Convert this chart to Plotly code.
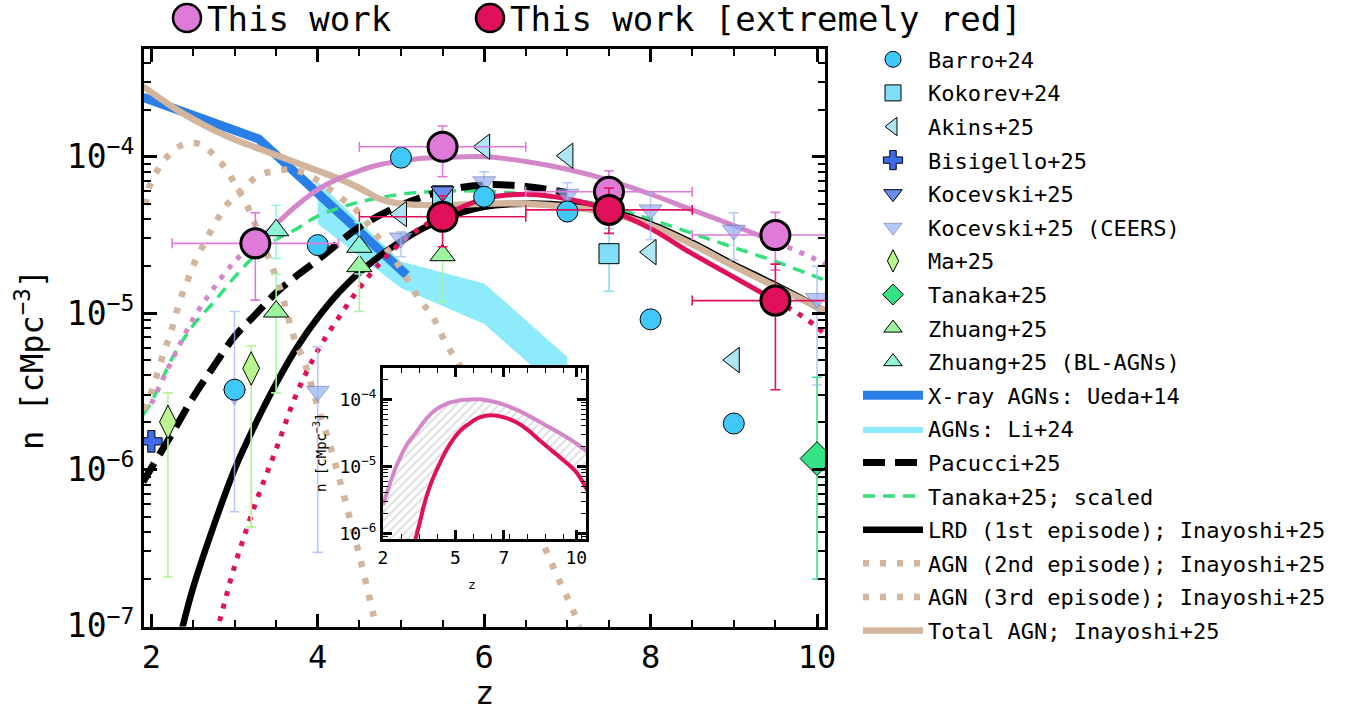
import numpy as np
import plotly.graph_objects as go

# ------------------------------------------------------------------
# Data (number densities given as log10 n [cMpc^-3])
# ------------------------------------------------------------------
# This work
tw_z = [3.25, 5.5, 7.5, 9.5]
tw_logn = [-4.554, -3.936, -4.224, -4.501]
tw_logn_lo = [-4.917, -4.128, -4.350, -4.725]
tw_logn_hi = [-4.358, -3.804, -4.090, -4.356]
tw_dz = [1.0, 1.0, 1.0, 1.0]

# This work [extremely red]
er_z = [5.5, 7.5, 9.5]
er_logn = [-4.384, -4.340, -4.920]
er_logn_lo = [-4.576, -4.490, -5.490]
er_logn_hi = [-4.250, -4.200, -4.687]
er_dz = [1.0, 1.0, 1.0]

# Literature measurements
barro_z = [3.0, 4.0, 5.0, 6.0, 7.0, 8.0, 9.0]
barro_logn = [-5.49, -4.565, -4.006, -4.256, -4.35, -5.04, -5.706]

kokorev_z = [5.5, 7.5]
kokorev_logn = [-4.25, -4.62]
kokorev_logn_lo = [-4.25, -4.86]
kokorev_logn_hi = [-4.25, -4.46]

akins_z = [5.0, 6.0, 7.0, 8.0, 9.0]
akins_logn = [-4.367, -3.936, -3.994, -4.61, -5.30]

bisigello_z = [2.0]
bisigello_logn = [-5.82]

kocevski_z = [5.5]
kocevski_logn = [-4.224]

ceers_z = [3.0, 4.0, 5.0, 6.0, 7.0, 8.0, 9.0, 10.0]
ceers_logn = [-5.52, -5.50, -4.52, -4.16, -4.24, -4.34, -4.47, -4.906]
ceers_logn_lo = [-6.27, -6.53, -4.64, -4.256, -4.416, -4.53, -4.66, -5.46]
ceers_logn_hi = [-4.99, -5.215, -4.48, -4.096, -4.166, -4.23, -4.358, -4.70]

ma_z = [2.2, 3.2]
ma_logn = [-5.696, -5.354]
ma_logn_lo = [-6.687, -6.367]
ma_logn_hi = [-5.51, -5.21]

tanaka_z = [10.0]
tanaka_logn = [-5.93]
tanaka_logn_lo = [-6.70]
tanaka_logn_hi = [-5.41]

zhuang_z = [3.5, 4.5, 5.5]
zhuang_logn = [-4.99, -4.70, -4.63]
zhuang_logn_lo = [-5.51, -4.99, -4.93]
zhuang_logn_hi = [-4.75, -4.55, -4.47]

zhuang_bl_z = [3.5, 4.5]
zhuang_bl_logn = [-4.47, -4.576]
zhuang_bl_logn_lo = [-4.65, -4.75]
zhuang_bl_logn_hi = [-4.31, -4.42]

# Model / literature curves
ueda_z = [1.9, 3.29, 5.07]
ueda_logn = [-3.62, -3.887, -4.757]

li_z = [4.0, 5.0, 6.0, 7.0]
li_logn_hi = [-4.16, -4.67, -4.81, -5.28]
li_logn_lo = [-4.43, -4.84, -5.07, -5.54]

pacucci_z = [1.9, 2.0, 2.25, 2.5, 2.75, 3.0, 3.25, 3.5, 3.75, 4.0, 4.5, 5.0, 5.5, 6.0, 6.5, 7.0]
pacucci_logn = [-6.08, -5.99, -5.77, -5.54, -5.34, -5.15, -5.01, -4.87, -4.76, -4.66,
                -4.45, -4.31, -4.22, -4.18, -4.19, -4.23]

tanaka_fit_z = [1.9, 2.0, 2.25, 2.5, 2.75, 3.0, 3.25, 3.5, 3.75, 4.0, 4.5, 5.0, 5.5, 6.0,
                6.5, 7.0, 7.5, 8.0, 8.5, 9.0, 9.5, 10.0, 10.1]
tanaka_fit_logn = [-5.65, -5.57, -5.29, -5.08, -4.93, -4.77, -4.63, -4.53, -4.46, -4.38,
                   -4.29, -4.24, -4.22, -4.22, -4.24, -4.27, -4.32, -4.40, -4.49, -4.58,
                   -4.67, -4.77, -4.79]

lrd_z = [2.35, 2.5, 2.75, 3.0, 3.25, 3.5, 3.75, 4.0, 4.25, 4.5, 5.0, 5.5, 6.0, 6.5, 7.0,
         7.5, 8.0, 8.5, 9.0, 9.5, 10.0, 10.1]
lrd_logn = [-7.06, -6.76, -6.36, -6.0, -5.71, -5.45, -5.22, -5.03, -4.87, -4.74, -4.54,
            -4.40, -4.32, -4.30, -4.31, -4.35, -4.43, -4.55, -4.69, -4.82, -4.96, -4.99]

agn2_z = [1.91, 2.01, 2.15, 2.23, 2.35, 2.43, 2.51, 2.61, 2.71, 2.83, 2.95, 3.11, 3.29,
          3.50, 3.72, 3.93, 4.27, 4.46, 4.60, 4.99, 5.23, 5.37, 5.47, 5.57, 5.69, 6.2,
          6.73, 6.91, 7.01, 7.09, 7.15]
agn2_logn = [-5.62, -5.49, -5.25, -5.13, -4.91, -4.80, -4.69, -4.58, -4.48, -4.37, -4.28,
             -4.20, -4.12, -4.09, -4.085, -4.13, -4.26, -4.34, -4.43, -4.71, -4.92, -5.01,
             -5.12, -5.22, -5.32, -5.85, -6.50, -6.72, -6.83, -6.93, -7.02]

agn3_z = [1.93, 1.97, 2.07, 2.19, 2.37, 2.59, 2.77, 2.91, 3.03, 3.13, 3.39, 3.55, 3.73,
          3.83, 4.0, 4.15, 4.27, 4.39, 4.51, 4.63, 4.70]
agn3_logn = [-4.31, -4.20, -4.09, -4.00, -3.925, -3.92, -4.00, -4.09, -4.20, -4.29, -4.62,
             -4.85, -5.18, -5.30, -5.60, -5.85, -6.08, -6.32, -6.57, -6.84, -7.0]

total_z = [1.9, 2.25, 2.5, 2.75, 3.0, 3.25, 3.5, 3.75, 4.0, 4.25, 4.5, 4.75, 5.0, 5.5,
           6.0, 6.5, 7.0, 7.5, 8.0, 8.5, 9.0, 9.5, 10.0, 10.1]
total_logn = [-3.55, -3.68, -3.76, -3.83, -3.89, -3.94, -3.99, -4.04, -4.09, -4.14, -4.20,
              -4.27, -4.30, -4.31, -4.30, -4.30, -4.32, -4.36, -4.44, -4.56, -4.70, -4.83,
              -4.96, -4.99]

# Best-fit density evolution of this work (both samples)
fit_z = [2.0, 2.25, 2.5, 2.75, 3.0, 3.25, 3.5, 3.75, 4.0, 4.25, 4.5, 4.75, 5.0, 5.25,
         5.5, 6.0, 6.5, 7.0, 7.5, 8.0, 8.5, 9.0, 9.5, 10.0, 10.45]
fit_all_logn = [-5.58, -5.30, -5.04, -4.84, -4.67, -4.55, -4.43, -4.31, -4.21, -4.14,
                -4.09, -4.05, -4.03, -4.01, -4.005, -4.0, -4.03, -4.08, -4.15, -4.24,
                -4.34, -4.44, -4.545, -4.66, -4.78]
fit_red_logn = [-8.4, -7.9, -7.5, -7.1, -6.62, -6.22, -5.87, -5.51, -5.24, -5.03,
                -4.84, -4.68, -4.55, -4.45, -4.38, -4.27, -4.24, -4.27, -4.34, -4.46,
                -4.62, -4.77, -4.92, -5.09, -5.36]

# Axis ticks
x_major = [2, 4, 6, 8, 10]
y_major_exp = [-7, -6, -5, -4]
inset_x_major = [2, 5, 7, 10]
inset_y_major_exp = [-6, -5, -4]

# ------------------------------------------------------------------
# Styling
# ------------------------------------------------------------------
W, H = 1364, 715
FONT = "DejaVu Sans Mono"
C_TW = "#e07ad8"
C_TW_LINE = "#d487c8"
C_RED = "#e0105a"
C_TAN = "#d2b59c"
C_UEDA = "#2a7fe6"
C_LI = "#8eebfb"
C_TFIT = "#33e07a"


def lin(v):
    return 10.0 ** np.asarray(v, dtype=float)


def px_x(p):
    return p / W


def px_y(p):
    return 1 - p / H


MAIN_XRANGE = [1.912, 10.096]
MAIN_YRANGE = [-7.004, -3.308]
INSET_XRANGE = [2.0, 10.4]
INSET_YRANGE = [-6.085, -3.533]

fig = go.Figure()


def errs(logn, lo, hi):
    n = lin(logn)
    return dict(type="data", array=lin(hi) - n, arrayminus=n - lin(lo))


# ---------------- curves (main panel) ----------------
fig.add_trace(go.Scatter(x=li_z, y=lin(li_logn_lo), mode="lines", line=dict(width=0, color=C_LI),
                         showlegend=False, legendgroup="li", hoverinfo="skip"))
fig.add_trace(go.Scatter(x=li_z, y=lin(li_logn_hi), mode="lines", fill="tonexty", fillcolor=C_LI,
                         line=dict(width=0, color=C_LI), name="AGNs: Li+24", legendgroup="li",
                         legendrank=12))
fig.add_trace(go.Scatter(x=ueda_z, y=lin(ueda_logn), mode="lines", line=dict(width=9, color=C_UEDA),
                         name="X-ray AGNs: Ueda+14", legendgroup="ueda", legendrank=11))
fig.add_trace(go.Scatter(x=tanaka_fit_z, y=lin(tanaka_fit_logn), mode="lines", line_shape="spline",
                         line=dict(width=3.5, color=C_TFIT, dash="12px,8px"),
                         name="Tanaka+25; scaled", legendgroup="tfit", legendrank=14))
fig.add_trace(go.Scatter(x=pacucci_z, y=lin(pacucci_logn), mode="lines", line_shape="spline",
                         line=dict(width=7, color="black", dash="22px,10px"),
                         name="Pacucci+25", legendgroup="pac", legendrank=13))
fig.add_trace(go.Scatter(x=lrd_z, y=lin(lrd_logn), mode="lines", line_shape="spline",
                         line=dict(width=6.5, color="black"),
                         name="LRD (1st episode); Inayoshi+25", legendgroup="lrd", legendrank=15))
fig.add_trace(go.Scatter(x=agn2_z, y=lin(agn2_logn), mode="lines", line_shape="spline",
                         line=dict(width=6.5, color=C_TAN, dash="6px,11px"),
                         name="AGN (2nd episode); Inayoshi+25", legendgroup="agn2", legendrank=16))
fig.add_trace(go.Scatter(x=agn3_z, y=lin(agn3_logn), mode="lines", line_shape="spline",
                         line=dict(width=6.5, color=C_TAN, dash="6px,11px"),
                         name="AGN (3rd episode); Inayoshi+25", legendgroup="agn3", legendrank=17))
fig.add_trace(go.Scatter(x=total_z, y=lin(total_logn), mode="lines", line_shape="spline",
                         line=dict(width=6.5, color=C_TAN),
                         name="Total AGN; Inayoshi+25", legendgroup="tot", legendrank=18))

# This work best-fit curves: solid within the sampled range, dotted outside
fz = np.asarray(fit_z)
fa = np.asarray(fit_all_logn)
fr = np.asarray(fit_red_logn)
for mask, dash in [(fz <= tw_z[0], "5px,8px"), ((fz >= tw_z[0]) & (fz <= tw_z[-1]), None),
                   (fz >= tw_z[-1], "5px,8px")]:
    fig.add_trace(go.Scatter(x=fz[mask], y=lin(fa[mask]), mode="lines", line_shape="spline",
                             line=dict(width=5, color=C_TW_LINE, dash=dash), showlegend=False,
                             hoverinfo="skip"))
for mask, dash in [(fz <= er_z[0], "5px,8px"), ((fz >= er_z[0]) & (fz <= er_z[-1]), None),
                   (fz >= er_z[-1], "5px,8px")]:
    fig.add_trace(go.Scatter(x=fz[mask], y=lin(fr[mask]), mode="lines", line_shape="spline",
                             line=dict(width=5, color=C_RED, dash=dash), showlegend=False,
                             hoverinfo="skip"))

# ---------------- literature points ----------------
EBW = 1.6
fig.add_trace(go.Scatter(x=ceers_z, y=lin(ceers_logn), mode="markers", name="Kocevski+25 (CEERS)",
                         legendgroup="ceers", legendrank=6,
                         error_y=dict(**errs(ceers_logn, ceers_logn_lo, ceers_logn_hi),
                                      color="rgba(160,185,245,0.75)", thickness=EBW, width=5),
                         marker=dict(symbol="triangle-down", size=20, color="rgba(150,175,245,0.7)",
                                     line=dict(width=1, color="rgba(90,100,150,0.5)"))))
fig.add_trace(go.Scatter(x=ma_z, y=lin(ma_logn), mode="markers", name="Ma+25", legendgroup="ma",
                         legendrank=7,
                         error_y=dict(**errs(ma_logn, ma_logn_lo, ma_logn_hi), color="#b4f38f",
                                      thickness=EBW, width=5),
                         marker=dict(symbol="diamond-tall", size=24, color="#b8f58c",
                                     line=dict(width=1, color="black"))))
fig.add_trace(go.Scatter(x=tanaka_z, y=lin(tanaka_logn), mode="markers", name="Tanaka+25",
                         legendgroup="tan", legendrank=8,
                         error_y=dict(**errs(tanaka_logn, tanaka_logn_lo, tanaka_logn_hi),
                                      color="#45e08c", thickness=EBW, width=5),
                         marker=dict(symbol="diamond", size=26, color="#33e385",
                                     line=dict(width=1, color="black"))))
fig.add_trace(go.Scatter(x=zhuang_z, y=lin(zhuang_logn), mode="markers", name="Zhuang+25",
                         legendgroup="zh", legendrank=9,
                         error_y=dict(**errs(zhuang_logn, zhuang_logn_lo, zhuang_logn_hi),
                                      color="#a6f5a8", thickness=EBW, width=5),
                         marker=dict(symbol="triangle-up", size=22, color="#9af59e",
                                     line=dict(width=1, color="black"))))
fig.add_trace(go.Scatter(x=zhuang_bl_z, y=lin(zhuang_bl_logn), mode="markers",
                         name="Zhuang+25 (BL-AGNs)", legendgroup="zhbl", legendrank=10,
                         error_y=dict(**errs(zhuang_bl_logn, zhuang_bl_logn_lo, zhuang_bl_logn_hi),
                                      color="#9ff5dc", thickness=EBW, width=5),
                         marker=dict(symbol="triangle-up", size=22, color="#8df5d6",
                                     line=dict(width=1, color="black"))))
fig.add_trace(go.Scatter(x=kokorev_z, y=lin(kokorev_logn), mode="markers", name="Kokorev+24",
                         legendgroup="kok", legendrank=2,
                         error_y=dict(**errs(kokorev_logn, kokorev_logn_lo, kokorev_logn_hi),
                                      color="#8fdcf4", thickness=EBW, width=5),
                         marker=dict(symbol="square", size=20, color="#80def7",
                                     line=dict(width=1, color="black"))))
fig.add_trace(go.Scatter(x=barro_z, y=lin(barro_logn), mode="markers", name="Barro+24",
                         legendgroup="barro", legendrank=1,
                         marker=dict(symbol="circle", size=21, color="#40c8fa",
                                     line=dict(width=1, color="black"))))
fig.add_trace(go.Scatter(x=akins_z, y=lin(akins_logn), mode="markers", name="Akins+25",
                         legendgroup="akins", legendrank=3,
                         marker=dict(symbol="triangle-left", size=22, color="#ade5f4",
                                     line=dict(width=1, color="black"))))
fig.add_trace(go.Scatter(x=bisigello_z, y=lin(bisigello_logn), mode="markers", name="Bisigello+25",
                         legendgroup="bis", legendrank=4,
                         marker=dict(symbol="cross", size=18, color="#3f6be8",
                                     line=dict(width=1, color="black"))))
fig.add_trace(go.Scatter(x=kocevski_z, y=lin(kocevski_logn), mode="markers", name="Kocevski+25",
                         legendgroup="koc", legendrank=5,
                         marker=dict(symbol="triangle-down", size=20, color="#6a8cf2",
                                     line=dict(width=1, color="black"))))

# ---------------- this work ----------------
fig.add_trace(go.Scatter(x=tw_z, y=lin(tw_logn), mode="markers", showlegend=False,
                         error_x=dict(type="data", array=tw_dz, color=C_TW, thickness=EBW, width=5),
                         error_y=dict(**errs(tw_logn, tw_logn_lo, tw_logn_hi), color=C_TW,
                                      thickness=EBW, width=5),
                         marker=dict(symbol="circle", size=29, color=C_TW,
                                     line=dict(width=3, color="black"))))
fig.add_trace(go.Scatter(x=er_z, y=lin(er_logn), mode="markers", showlegend=False,
                         error_x=dict(type="data", array=er_dz, color=C_RED, thickness=EBW, width=5),
                         error_y=dict(**errs(er_logn, er_logn_lo, er_logn_hi), color=C_RED,
                                      thickness=EBW, width=5),
                         marker=dict(symbol="circle", size=29, color=C_RED,
                                     line=dict(width=3, color="black"))))

# ---------------- inset ----------------
fig.add_trace(go.Scatter(x=fit_z, y=lin(fit_red_logn), mode="lines", line_shape="spline",
                         line=dict(width=0, color=C_RED), showlegend=False, hoverinfo="skip",
                         xaxis="x2", yaxis="y2"))
fig.add_trace(go.Scatter(x=fit_z, y=lin(fit_all_logn), mode="lines", line_shape="spline",
                         fill="tonexty", fillcolor="rgba(0,0,0,0)",
                         fillpattern=dict(shape="/", fgcolor="#b8b8b8", bgcolor="white", size=6,
                                          solidity=0.3),
                         line=dict(width=4, color=C_TW_LINE), showlegend=False, hoverinfo="skip",
                         xaxis="x2", yaxis="y2"))
fig.add_trace(go.Scatter(x=fit_z, y=lin(fit_red_logn), mode="lines", line_shape="spline",
                         line=dict(width=4, color=C_RED), showlegend=False, hoverinfo="skip",
                         xaxis="x2", yaxis="y2"))

# ------------------------------------------------------------------
# Axes
# ------------------------------------------------------------------
y_minor = [k * 10.0 ** e for e in range(-8, -2) for k in range(2, 10)]
sup = lambda e: "10<sup>\u2212%d</sup>" % (-e)

axis_common = dict(showline=True, linewidth=3, linecolor="black", mirror="allticks",
                   ticks="inside", tickcolor="black", showgrid=False, zeroline=False,
                   automargin=False)

fig.update_layout(
    xaxis=dict(**axis_common, domain=[px_x(144), px_x(825)], range=MAIN_XRANGE,
               tickvals=x_major, ticklen=13, tickwidth=3,
               tickfont=dict(family=FONT, size=32, color="black"),
               minor=dict(ticks="inside", ticklen=7, tickwidth=1.5, dtick=0.5, tick0=0,
                          tickcolor="black")),
    yaxis=dict(**axis_common, type="log", domain=[px_y(626.5), px_y(48.5)], range=MAIN_YRANGE,
               tickvals=[10.0 ** e for e in y_major_exp], ticktext=[sup(e) for e in y_major_exp],
               ticklen=13, tickwidth=3, tickfont=dict(family=FONT, size=33, color="black"),
               minor=dict(ticks="inside", ticklen=7, tickwidth=1.5, tickvals=y_minor,
                          tickcolor="black")),
    xaxis2=dict(**axis_common, anchor="y2", domain=[px_x(383), px_x(586)], range=INSET_XRANGE,
                tickvals=inset_x_major, ticklen=9, tickwidth=2.5,
                tickfont=dict(family=FONT, size=18, color="black"),
                minor=dict(ticks="inside", ticklen=5, tickwidth=1.2, dtick=0.745, tick0=2,
                           tickcolor="black")),
    yaxis2=dict(**axis_common, anchor="x2", type="log", domain=[px_y(539), px_y(368)],
                range=INSET_YRANGE, tickvals=[10.0 ** e for e in inset_y_major_exp],
                ticktext=[sup(e) for e in inset_y_major_exp], ticklen=9, tickwidth=2.5,
                tickfont=dict(family=FONT, size=18, color="black"),
                minor=dict(ticks="inside", ticklen=5, tickwidth=1.2, tickvals=y_minor,
                           tickcolor="black")),
)

# Axis titles
annos = [
    dict(text="z", x=px_x(484), y=px_y(693), font=dict(family=FONT, size=32)),
    dict(text="n [cMpc<sup>\u22123</sup>]", x=px_x(30), y=px_y(360), textangle=-90,
         font=dict(family=FONT, size=32)),
    dict(text="z", x=px_x(472), y=px_y(584), font=dict(family=FONT, size=13)),
    dict(text="n [cMpc<sup>\u22123</sup>]", x=px_x(320), y=px_y(453), textangle=-90,
         font=dict(family=FONT, size=14)),
]

# Header legend for the two samples of this work
header = [(187, 18, C_TW, "This work"), (490, 18, C_RED, "This work [extremely red]")]
shapes = []
for cx, cy, col, label in header:
    r = 14
    shapes.append(dict(type="circle", xref="paper", yref="paper",
                       x0=px_x(cx - r), x1=px_x(cx + r), y0=px_y(cy + r), y1=px_y(cy - r),
                       fillcolor=col, line=dict(color="black", width=2.5), layer="above"))
    annos.append(dict(text=label, x=px_x(cx + 18), y=px_y(cy + 1), xanchor="left",
                      font=dict(family=FONT, size=34)))

for a in annos:
    a.setdefault("xanchor", "center")
    a.update(xref="paper", yref="paper", showarrow=False, yanchor="middle")
    a["font"].setdefault("color", "black")

fig.update_layout(
    width=W, height=H, autosize=False,
    margin=dict(l=0, r=0, t=0, b=0, pad=0),
    paper_bgcolor="white", plot_bgcolor="white",
    annotations=annos, shapes=shapes,
    legend=dict(x=px_x(858), y=px_y(38.5), xanchor="left", yanchor="top",
                font=dict(family=FONT, size=22, color="black"), bgcolor="rgba(0,0,0,0)",
                borderwidth=0, itemwidth=60, tracegroupgap=2, itemsizing="trace",
                traceorder="grouped"),
)

fig.write_html("out.html")
